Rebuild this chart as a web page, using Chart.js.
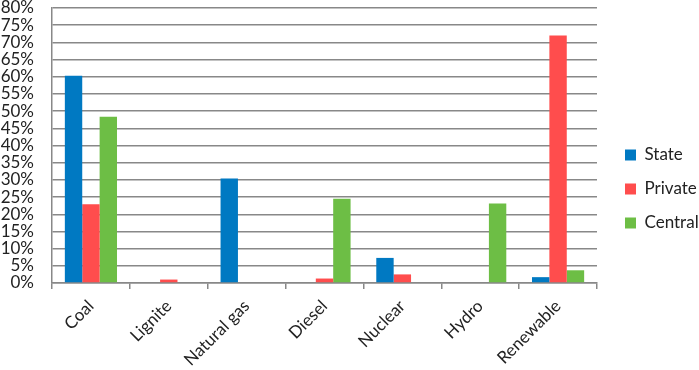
<!DOCTYPE html>
<html><head><meta charset="utf-8">
<script src="https://cdn.jsdelivr.net/npm/chart.js@4/dist/chart.umd.min.js"></script>
<style>html,body{margin:0;padding:0;background:#fff}#wrap{width:699px;height:370px}</style>
</head><body><div id="wrap"><canvas id="c" width="699" height="370"></canvas></div>
<script>
const categories = ["Coal","Lignite","Natural gas","Diesel","Nuclear","Hydro","Renewable"];
const stateValues = [60.3, 0, 30.4, 0, 7.3, 0, 1.7];
const privateValues = [22.9, 1.0, 0, 1.3, 2.5, 0, 72.0];
const centralValues = [48.4, 0, 0, 24.5, 0, 23.1, 3.7];
const yTicks = [0,5,10,15,20,25,30,35,40,45,50,55,60,65,70,75,80];

const FONT = "Lato, 'Open Sans', sans-serif";
const legendPlace = {
  id:'legendPlace',
  afterInit(chart){
    const lg = chart.legend;
    const f = lg.fit.bind(lg);
    lg.fit = function(){ f(); this.width = 102; };
  },
  afterLayout(chart){
    const lg = chart.legend;
    lg.left += 11; lg.right += 11;
  }
};
new Chart(document.getElementById('c'), {
  type: 'bar',
  data: {
    labels: categories,
    datasets: [
      {label:'State', data: stateValues, backgroundColor:'#0079C2'},
      {label:'Private', data: privateValues, backgroundColor:'#FF4D4D'},
      {label:'Central', data: centralValues, backgroundColor:'#6DBE45'}
    ]
  },
  options: {
    responsive:false, animation:false,
    layout:{padding:{left:0,right:0,top:8,bottom:0}},
    datasets:{bar:{categoryPercentage:0.67, barPercentage:1}},
    plugins:{
      tooltip:{enabled:false},
      legend:{position:'right', align:'center',
        labels:{boxWidth:11, boxHeight:11, padding:17, color:'#222', font:{family:FONT,size:17}}}
    },
    scales:{
      x:{
        grid:{offset:true, drawOnChartArea:false, color:'#888', tickLength:6, lineWidth:1.5},
        border:{color:'#888', width:1.5},
        ticks:{maxRotation:45, minRotation:45, autoSkip:false, labelOffset:0, color:'#222', font:{family:FONT,size:17}, padding:7},
        afterFit(s){ s.height = 87; }
      },
      y:{
        min:0, max:80,
        afterBuildTicks(s){ s.ticks = yTicks.map(v=>({value:v})); },
        grid:{color:'#888', lineWidth:1.5, drawTicks:false},
        border:{color:'#888', width:1.5},
        ticks:{autoSkip:false, color:'#222', padding:18, font:{family:FONT,size:17}, callback:v=>v+'%'},
        afterFit(s){ s.width = 52; s.paddingTop = 0; s.paddingBottom = 0; }
      }
    }
  },
  plugins:[legendPlace]
});
</script></body></html>
